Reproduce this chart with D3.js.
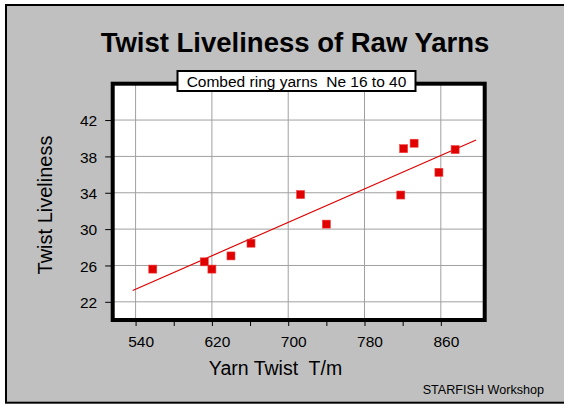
<meta charset="utf-8">
<body style="margin:0;background:#fff">
<script src="https://d3js.org/d3.v7.min.js"></script>
<script>
// data
var twist      = [558, 612, 620, 640, 661, 713, 740, 818, 821, 832, 858, 875];
var liveliness = [25.6, 26.4, 25.6, 27.05, 28.45, 33.8, 30.55, 33.75, 38.85, 39.45, 36.25, 38.75];
var trendX     = [537, 897];
var trendY     = [23.25, 39.8];
var xTicks     = [540, 620, 700, 780, 860];
var xMinor     = [540, 580, 620, 660, 700, 740, 780, 820, 860];
var yTicks     = [22, 26, 30, 34, 38, 42];

var W = 564, H = 406;
var plot = {left: 112.7, top: 83.7, right: 484.7, bottom: 320};

var svg = d3.select("body").append("svg")
    .attr("width", W).attr("height", H)
    .style("display", "block")
    .style("font-family", "Arial, 'Liberation Sans', sans-serif");

// outer panel
svg.append("rect")
    .attr("x", 6).attr("y", 5).attr("width", W + 10).attr("height", 397.7)
    .attr("fill", "#c0c0c0").attr("stroke", "#000").attr("stroke-width", 2);

var x = d3.scaleLinear().domain([516, 906]).range([plot.left, plot.right]);
var y = d3.scaleLinear().domain([20, 46]).range([plot.bottom, plot.top]);

svg.append("rect")
    .attr("x", plot.left).attr("y", plot.top)
    .attr("width", plot.right - plot.left).attr("height", plot.bottom - plot.top)
    .attr("fill", "#fff");

// grid
svg.append("g").selectAll("line").data(xTicks).enter().append("line")
    .attr("x1", d => x(d)).attr("x2", d => x(d))
    .attr("y1", plot.top).attr("y2", plot.bottom)
    .attr("stroke", "#a0a0a0").attr("stroke-width", 1);
svg.append("g").selectAll("line").data(yTicks).enter().append("line")
    .attr("x1", plot.left).attr("x2", plot.right)
    .attr("y1", d => y(d)).attr("y2", d => y(d))
    .attr("stroke", "#a0a0a0").attr("stroke-width", 1);

// axes
var xAxis = svg.append("g")
    .attr("transform", "translate(0," + (plot.bottom + 1.5) + ")")
    .call(d3.axisBottom(x).tickValues(xMinor).tickSize(4.5).tickSizeOuter(0)
        .tickFormat(d => xTicks.indexOf(d) >= 0 ? d : ""));
xAxis.select(".domain").remove();
xAxis.selectAll("line").attr("stroke", "#000");
xAxis.selectAll("text").attr("dx", 5).attr("y", 25.5).attr("dy", 0)
    .style("font-size", "15.5px").attr("fill", "#000");

var yAxis = svg.append("g")
    .attr("transform", "translate(" + (plot.left - 1.5) + ",0)")
    .call(d3.axisLeft(y).tickValues(yTicks).tickSize(6).tickSizeOuter(0));
yAxis.select(".domain").remove();
yAxis.selectAll("line").attr("stroke", "#000");
yAxis.selectAll("text").attr("x", -14).attr("dy", "0.36em")
    .style("font-size", "15.5px").attr("fill", "#000");

// trend line
svg.append("path")
    .datum(d3.zip(trendX, trendY))
    .attr("d", d3.line().x(d => x(d[0])).y(d => y(d[1])))
    .attr("fill", "none").attr("stroke", "#e00000").attr("stroke-width", 1.2);

// markers
svg.append("g").selectAll("rect").data(d3.zip(twist, liveliness)).enter().append("rect")
    .attr("x", d => x(d[0]) - 4).attr("y", d => y(d[1]) - 4)
    .attr("width", 8).attr("height", 8)
    .attr("fill", "#e00000").attr("stroke", "#f04040").attr("stroke-width", 0.6);

// frame
svg.append("rect")
    .attr("x", plot.left).attr("y", plot.top)
    .attr("width", plot.right - plot.left).attr("height", plot.bottom - plot.top)
    .attr("fill", "none").attr("stroke", "#000").attr("stroke-width", 4);

// legend box
var leg = svg.append("g");
leg.append("rect")
    .attr("x", 177.5).attr("y", 71).attr("width", 238).attr("height", 20)
    .attr("fill", "#fff").attr("stroke", "#000").attr("stroke-width", 2);
leg.append("text")
    .attr("x", 296.5).attr("y", 86.5).attr("text-anchor", "middle")
    .style("font-size", "15.5px").style("white-space", "pre")
    .text("Combed ring yarns  Ne 16 to 40");

// titles
svg.append("text")
    .attr("x", 295).attr("y", 52).attr("text-anchor", "middle")
    .style("font-size", "27.5px").style("font-weight", "bold")
    .text("Twist Liveliness of Raw Yarns");

svg.append("text")
    .attr("x", 275.5).attr("y", 375).attr("text-anchor", "middle")
    .style("font-size", "19.5px").style("white-space", "pre")
    .text("Yarn Twist  T/m");

svg.append("text")
    .attr("transform", "translate(52,205) rotate(-90)")
    .attr("text-anchor", "middle")
    .style("font-size", "20px")
    .text("Twist Liveliness");

svg.append("text")
    .attr("x", 544).attr("y", 394).attr("text-anchor", "end")
    .style("font-size", "12.6px")
    .text("STARFISH Workshop");
</script>
</body>
